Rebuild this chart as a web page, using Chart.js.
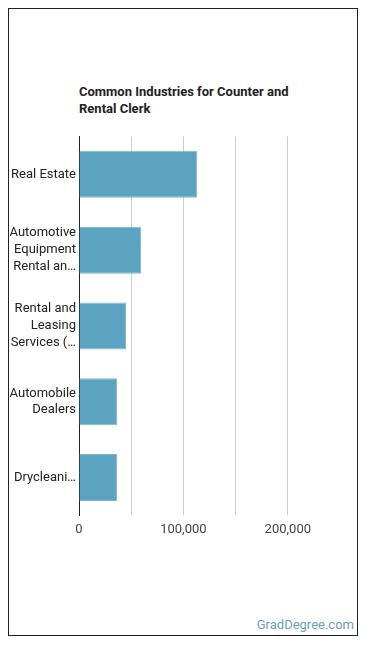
<!DOCTYPE html>
<html>
<head>
<meta charset="utf-8">
<script src="https://cdn.jsdelivr.net/npm/chart.js@4/dist/chart.umd.min.js"></script>
<style>
  body { margin: 0; background: #fff; font-family: Roboto, sans-serif; }
  .frame {
    position: absolute; left: 8px; top: 8px;
    width: 350px; height: 628px;
    border: 1px solid #222; box-sizing: border-box;
  }
  .title {
    position: absolute; left: 70px; top: 74px; width: 230px;
    font-size: 13px; font-weight: bold; line-height: 17px; color: #222;
  }
  .brand {
    position: absolute; right: 3px; bottom: 3px;
    font-size: 13px; color: #6a9fb8;
  }
  .wrap { position: absolute; left: 0px; top: 116px; width: 341px; height: 420px; }
</style>
</head>
<body>
<div class="frame">
  <div class="title">Common Industries for Counter and Rental Clerk</div>
  <div class="wrap"><canvas id="industryChart"></canvas></div>
  <div class="brand">GradDegree.com</div>
</div>
<script>
// Industry labels (already wrapped / truncated like the source)
const industries = [
  'Real Estate',
  ['Automotive', 'Equipment', 'Rental an\u2026'],
  ['Rental and', 'Leasing', 'Services (\u2026'],
  ['Automobile', 'Dealers'],
  'Drycleani\u2026'
];
// Number of workers employed
const workers = [113000, 59500, 45000, 36500, 36500];
const axisMax = 250000;
const axisStep = 50000;

const ctx = document.getElementById('industryChart');
new Chart(ctx, {
  type: 'bar',
  data: {
    labels: industries,
    datasets: [{
      label: 'Workers',
      data: workers,
      backgroundColor: '#5ba3c1',
      borderColor: '#7fb8cf',
      borderWidth: 1,
      barPercentage: 0.62,
      categoryPercentage: 1
    }]
  },
  options: {
    indexAxis: 'y',
    responsive: true,
    maintainAspectRatio: false,
    animation: false,
    layout: { padding: { top: 10, right: 10, left: 0, bottom: 0 } },
    plugins: {
      legend: { display: false },
      tooltip: { enabled: false }
    },
    scales: {
      x: {
        min: 0,
        max: axisMax,
        border: { display: false },
        grid: {
          drawTicks: false,
          color: c => (c.tick && c.tick.value > 0 && c.tick.value < axisMax) ? '#cccccc' : 'rgba(0,0,0,0)'
        },
        ticks: {
          stepSize: axisStep,
          padding: 7,
          color: '#444',
          font: { family: 'Roboto', size: 13 },
          maxRotation: 0,
          autoSkip: false,
          callback: v => (v % 100000 === 0 && v < axisMax) ? v.toLocaleString('en-US') : ''
        }
      },
      y: {
        border: { display: true, color: '#222', width: 1 },
        grid: { display: false, drawTicks: false },
        afterFit: scale => { scale.width = 70; },
        ticks: {
          color: '#222',
          padding: 3,
          font: { family: 'Roboto', size: 13, lineHeight: 1.3 }
        }
      }
    }
  }
});
</script>
</body>
</html>
